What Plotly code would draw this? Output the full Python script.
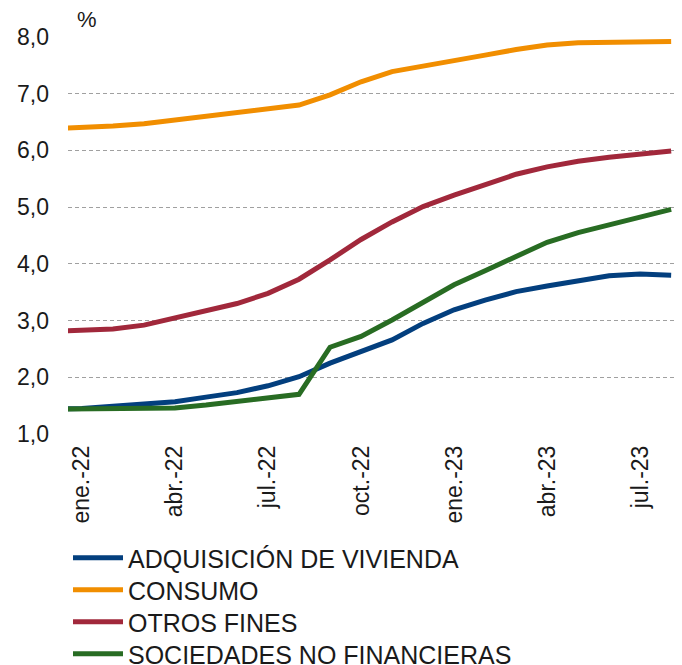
import plotly.graph_objects as go

# months: dic.-21 is only a clipped stub at the left edge of the plot
months = ["dic.-21",
          "ene.-22", "feb.-22", "mar.-22", "abr.-22", "may.-22", "jun.-22",
          "jul.-22", "ago.-22", "sep.-22", "oct.-22", "nov.-22", "dic.-22",
          "ene.-23", "feb.-23", "mar.-23", "abr.-23", "may.-23", "jun.-23",
          "jul.-23", "ago.-23"]

vivienda = [1.44,
            1.45, 1.49, 1.53, 1.57, 1.65, 1.73, 1.85, 2.01, 2.25, 2.45,
            2.66, 2.95, 3.19, 3.36, 3.51, 3.61, 3.70, 3.79, 3.82, 3.80]
consumo = [6.38,
           6.40, 6.43, 6.47, 6.54, 6.60, 6.66, 6.73, 6.80, 6.98, 7.21,
           7.39, 7.48, 7.57, 7.68, 7.78, 7.86, 7.90, 7.91, 7.91, 7.92]
otros = [2.81,
         2.82, 2.85, 2.92, 3.04, 3.17, 3.30, 3.48, 3.73, 4.07, 4.43,
         4.74, 5.01, 5.21, 5.40, 5.58, 5.71, 5.81, 5.88, 5.93, 5.99]
sociedades = [1.44,
              1.44, 1.44, 1.44, 1.46, 1.51, 1.58, 1.65, 1.70, 2.53, 2.72,
              3.01, 3.33, 3.63, 3.88, 4.14, 4.38, 4.55, 4.69, 4.83, 4.96]

series = [
    ("ADQUISICIÓN DE VIVIENDA", vivienda, "#033f7e"),
    ("CONSUMO", consumo, "#f18e00"),
    ("OTROS FINES", otros, "#a1283b"),
    ("SOCIEDADES NO FINANCIERAS", sociedades, "#286c23"),
]

tick_labels = ["ene.-22", "abr.-22", "jul.-22", "oct.-22", "ene.-23", "abr.-23", "jul.-23"]
y_ticks = [1, 2, 3, 4, 5, 6, 7, 8]

x = list(range(-1, len(months) - 1))
tick_pos = [x[months.index(t)] for t in tick_labels]

font = "Liberation Sans, Arial, Helvetica, sans-serif"

# page body has an 8px margin, so the figure is 8px smaller each way
W, H = 674, 657
row_y = [550, 582, 614, 646]   # legend rows, px from top of figure

fig = go.Figure()
legends = {}
for i, (name, vals, col) in enumerate(series):
    key = "legend" if i == 0 else f"legend{i + 1}"
    fig.add_trace(go.Scatter(
        x=x, y=vals, name=name, mode="lines",
        line=dict(color=col, width=5), legend=key,
    ))
    legends[key] = dict(
        x=0, xref="paper", xanchor="left",
        y=1 - row_y[i] / H, yref="container", yanchor="middle",
        font=dict(size=25, color="#1a1a1a"),
        bgcolor="rgba(0,0,0,0)", borderwidth=0, itemwidth=50,
    )

fig.update_layout(
    width=W, height=H,
    margin=dict(l=60, r=0, t=29, b=231, autoexpand=False),
    paper_bgcolor="white", plot_bgcolor="white",
    font=dict(family=font, size=23, color="#1a1a1a"),
    showlegend=True,
    xaxis=dict(
        range=[-0.45, 19.35],
        tickmode="array", tickvals=tick_pos, ticktext=tick_labels,
        tickangle=-90, showgrid=False, zeroline=False, showline=False,
        ticks="", ticklabelstandoff=6,
        tickfont=dict(size=23),
    ),
    yaxis=dict(
        range=[1, 8],
        tickmode="array", tickvals=y_ticks,
        ticktext=[f"{v:.1f}".replace(".", ",") for v in y_ticks],
        showgrid=True, gridcolor="#a0a0a0", gridwidth=1, griddash="4px,3px",
        zeroline=False, showline=False, ticks="", ticklabelstandoff=18,
        tickfont=dict(size=23),
    ),
    annotations=[dict(
        text="%", xref="paper", yref="paper", x=0.031, y=1,
        yshift=18, xanchor="center", yanchor="middle",
        showarrow=False, font=dict(size=22, color="#1a1a1a"),
    )],
    **legends,
)

fig.write_html("out.html")
